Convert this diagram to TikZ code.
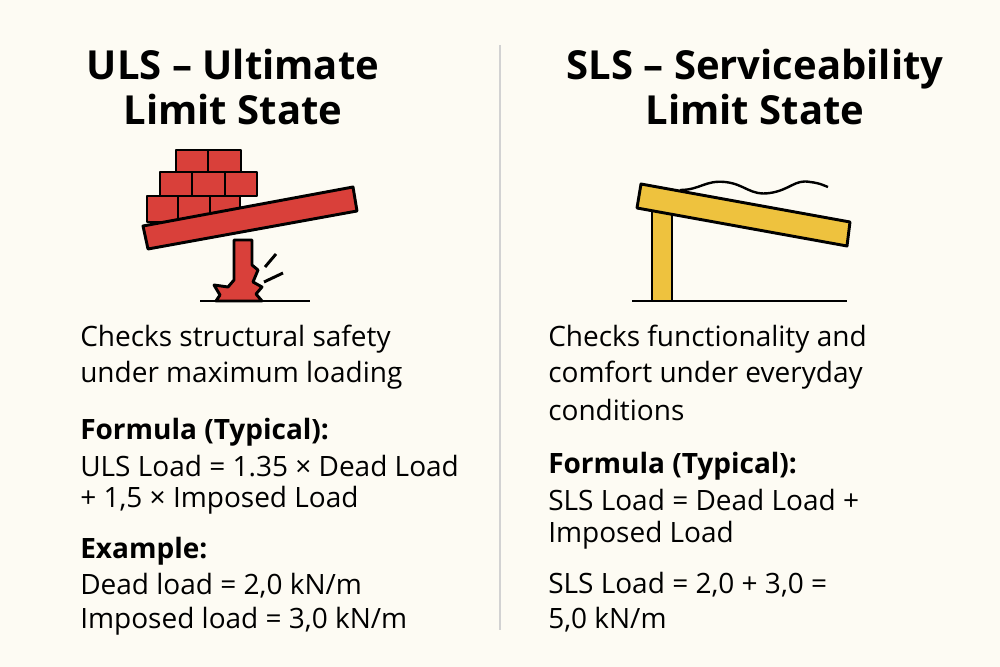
\documentclass[tikz,border=0pt]{standalone}
\usepackage{fontspec}
\setmainfont{Open Sans}
\begin{document}
\begin{tikzpicture}[x=0.75pt,y=-0.75pt,
  body/.style={anchor=west,inner sep=0pt,font=\fontsize{21}{25}\selectfont},
  bodyb/.style={body,font=\fontsize{21}{25}\selectfont\bfseries},
  ttl/.style={align=center,inner sep=0pt,font=\fontsize{30}{32}\selectfont\bfseries},
  ic/.style={draw=black,line width=2.2pt,line join=round},
  gl/.style={draw=black,line width=2pt}]
\definecolor{bg}{HTML}{FDFBF3}
\definecolor{brick}{HTML}{D9403A}
\definecolor{yel}{HTML}{EEC23E}
\fill[bg] (0,0) rectangle (1000,667);
\useasboundingbox (0,0) rectangle (1000,667);
\draw[gray!35,line width=1pt] (500,45) -- (500,630);
% titles
\node[ttl] (t1) at (233,87) {ULS – Ultimate\\[2pt]Limit State};
\node[ttl] (t2) at (755,87) {SLS – Serviceability\\[2pt]Limit State};
% ULS icon
\foreach \a/\b in {176/208,208/241} \filldraw[ic,fill=brick] (\a,150) rectangle (\b,172);
\foreach \a/\b in {160/192,192/225,225/257} \filldraw[ic,fill=brick] (\a,172) rectangle (\b,196);
\foreach \a/\b in {147/178,178/210,210/240} \filldraw[ic,fill=brick] (\a,196) rectangle (\b,222);
\filldraw[ic,fill=brick] (234,240) -- (234,280) -- (228,287) -- (214,285) -- (220,295) -- (216,301) -- (262,301) -- (256,294) -- (262,287) -- (253,282) -- (258,270) -- (252,265) -- (252,240) -- cycle;
\filldraw[ic,fill=brick] (143,226) -- (353,187) -- (357,211) -- (148,249) -- cycle;
\draw[ic] (265,267) -- (276,254);
\draw[ic] (264,282) -- (283,273);
\draw[gl] (200,301) -- (310,301);
% SLS icon
\filldraw[ic,fill=yel] (652,205) rectangle (672,301);
\filldraw[ic,fill=yel] (641,184) -- (850,222) -- (847,246) -- (637,208) -- cycle;
\draw[ic,line width=1.8pt] (680,190) .. controls (700,190) and (705,180) .. (725,182) .. controls (745,184) and (750,196) .. (770,193) .. controls (790,190) and (795,179) .. (810,182) .. controls (820,183) and (825,186) .. (828,187);
\draw[gl] (632,301) -- (847,301);
% left text
\node[body] (l1) at (80,339) {Checks structural safety};
\node[body] (l2) at (80,375) {under maximum loading};
\node[bodyb] (l3) at (80,432) {Formula (Typical):};
\node[body] (l4) at (80,466) {ULS Load = 1.35 × Dead Load};
\node[body] (l5) at (80,500) {+ 1,5 × Imposed Load};
\node[bodyb] (l6) at (80,551) {Example:};
\node[body] (l7) at (80,586) {Dead load = 2,0 kN/m};
\node[body] (l8) at (80,621) {Imposed load = 3,0 kN/m};
% right text
\node[body] (r1) at (548,339) {Checks functionality and};
\node[body] (r2) at (548,375) {comfort under everyday};
\node[body] (r3) at (548,410) {conditions};
\node[bodyb] (r4) at (548,466) {Formula (Typical):};
\node[body] (r5) at (548,500) {SLS Load = Dead Load +};
\node[body] (r6) at (548,535) {Imposed Load};
\node[body] (r7) at (548,585) {SLS Load = 2,0 + 3,0 =};
\node[body] (r8) at (548,620) {5,0 kN/m};
\end{tikzpicture}
\end{document}
